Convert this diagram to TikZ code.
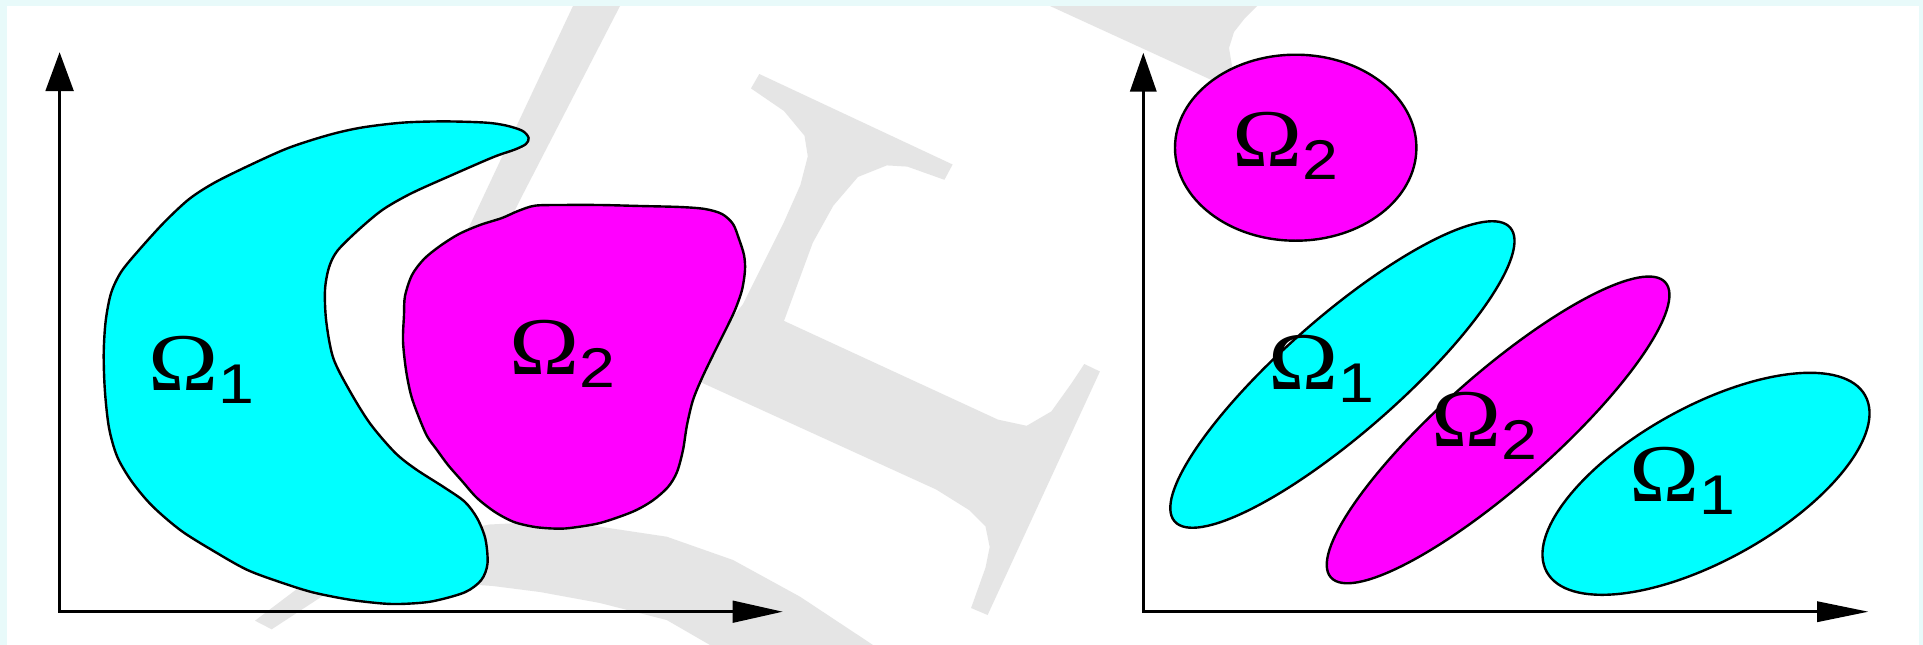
\documentclass[tikz,border=0pt]{standalone}
\usepackage{fontspec}
\usepackage{graphicx}
\usetikzlibrary{arrows.meta}
\newfontfamily\omfont{Liberation Serif}
\newfontfamily\digfont{Liberation Sans}
\definecolor{framec}{RGB}{232,250,250}
\definecolor{wmark}{RGB}{229,229,229}
\definecolor{regcyan}{RGB}{0,255,255}
\definecolor{regmag}{RGB}{255,0,255}
\newcommand{\omlab}[1]{\scalebox{1.15}[1]{\fontsize{82}{82}\selectfont\omfont Ω\fontsize{56}{56}\selectfont\digfont\raisebox{-13pt}{#1}}}
\begin{document}
\begin{tikzpicture}[x=1pt,y=-1pt,
  region/.style={draw=black,line width=2.4pt,line join=round},
  wm/.style={fill=wmark},
  lbl/.style={anchor=base west,inner sep=0pt,outer sep=0pt},
  axisL/.style={line width=2.5pt},
  axisR/.style={line width=3.5pt}]
\useasboundingbox (0,0) rectangle (1923,645);
\fill[framec] (0,0) rectangle (1923,645);
\fill[white] (7,6) rectangle (1919,645);

% watermark
\fill[wm] (573,6) -- (620,6) -- (520,200) -- (480,280) -- (444,280) -- (470,225) -- cycle;
\fill[wm] (759.3,74) -- (952.6,164.5) -- (944.4,179.8) -- (907.4,166.6) -- (886.8,165.4) -- (858,176.9) -- (833.3,205.7) -- (812.8,242.7) -- (784,320.9)
  -- (997.9,419.6) -- (1026.7,425.8) -- (1051.4,411.4) -- (1072,382.6) -- (1084.3,364) -- (1099.9,371.5) -- (987.6,615) -- (971.1,608)
  -- (985.5,567.7) -- (989.7,547) -- (985.5,526.5) -- (969,510) -- (936.2,489.5) -- (701.7,382.6) -- (690,370) -- (742.8,304.4)
  -- (784,222) -- (800.4,185) -- (807.8,156.3) -- (804.5,135.7) -- (784,111) -- (751,88.4) -- cycle;
\fill[wm] (255,620.7) -- (300,586.7) -- (350,563) -- (400,545) -- (450,532) -- (489.5,524.5) -- (540,522) -- (600,526.7) -- (666.7,536.7)
  -- (733,560) -- (800,596.7) -- (873,645) -- (890,660) -- (740,660) -- (710,645) -- (666.7,620) -- (600,603) -- (540,592) -- (493,586)
  -- (450,583) -- (400,584) -- (360,588) -- (326.7,593.3) -- (271.7,629.3) -- cycle;
\fill[wm] (1050,6) -- (1225,86.2) -- (1240,90) -- (1232,66) -- (1229,48) -- (1234,32) -- (1245,18) -- (1257,6) -- cycle;

% left panel
\draw[region,fill=regcyan] plot[smooth cycle,tension=0.5] coordinates {
  (528.6,137.8) (522.4,130.8) (506,125.5) (485.4,122.6) (444.4,121.4) (403.1,122.6) (362,127.5) (329,134.9) (288,148.1)
  (246.8,166.6) (213.9,183) (189.2,199) (164.5,222) (139.9,249) (121.4,271.5) (111.1,293) (105.7,320.9) (103.7,353.8)
  (104.9,390.8) (109,427.8) (117.2,456.6) (131.6,481.3) (152.2,505.9) (181,530.6) (213.9,551.2) (246.8,569.7)
  (279.7,582) (312.6,592.3) (349.7,599.7) (382.6,603.5) (403,603.9) (432,601.4) (464.8,592.3) (481.3,580)
  (487.5,563.6) (485.4,538.9) (477.2,518.3) (464.8,501.8) (444.4,487.5) (415.5,469) (394.9,452.5) (370.2,423.7)
  (349.7,390.8) (333.2,357.9) (326.2,320.9) (325,290) (329,267.4) (337.3,250.9) (357.9,230.4) (382.6,209.8)
  (411.4,193.3) (452.5,174.8) (493.6,157) (515,149.5) (526,144)};
\draw[region,fill=regmag] plot[smooth cycle,tension=0.5] coordinates {
  (534.8,205.7) (560,205) (600,205) (640,206) (680,207) (705,209) (722,214) (733,224) (739,239) (744,255) (745,270)
  (742,290) (735,310) (726,329) (714,353) (702,378) (693,400) (687,425) (683,450) (677,472) (668,487) (652,501)
  (632,512) (600,523) (570,528) (555,528.6) (535,527) (514,522) (495,512) (477,498) (462,481) (448,465) (437,450)
  (427,436) (418,415) (411,395) (406,370) (403,341) (404,315) (405,296) (412,275) (424,259) (440,246) (459,234)
  (480,225) (502,218) (518,211)};
\coordinate (oL) at (59.6,611.7);
\coordinate (yL) at (59.6,52.2);
\coordinate (xL) at (782.7,611.7);
\draw[axisL,{Triangle[length=39pt,width=28pt]}-{Triangle[length=50pt,width=21.7pt]}] (yL) -- (oL) -- (xL);
\node[lbl] (a1) at (148,390) {\omlab{1}};
\node[lbl] (a2) at (509,374.3) {\omlab{2}};

% right panel
\draw[region,fill=regmag] (1295.7,147.7) ellipse [x radius=120.7pt, y radius=93pt];
\draw[region,fill=regcyan,rotate around={41.2:(1342.4,374.5)}] (1342.4,374.5) ellipse [x radius=223pt, y radius=58pt];
\draw[region,fill=regmag,rotate around={41.4:(1498.1,429.9)}] (1498.1,429.9) ellipse [x radius=223pt, y radius=56pt];
\draw[region,fill=regcyan,rotate around={29:(1706,483.8)}] (1706,483.8) ellipse [x radius=182pt, y radius=77pt];
\coordinate (oR) at (1143.3,611.7);
\coordinate (yR) at (1143.3,52.7);
\coordinate (xR) at (1868.7,611.7);
\draw[axisR,{Triangle[length=39pt,width=26pt]}-{Triangle[length=51.7pt,width=20pt]}] (yR) -- (oR) -- (xR);
\node[lbl] (b1) at (1232.6,166.6) {\omlab{2}};
\node[lbl] (b2) at (1268,389) {\omlab{1}};
\node[lbl] (b3) at (1431,446.3) {\omlab{2}};
\node[lbl] (b4) at (1629,501.8) {\omlab{1}};
\end{tikzpicture}
\end{document}
